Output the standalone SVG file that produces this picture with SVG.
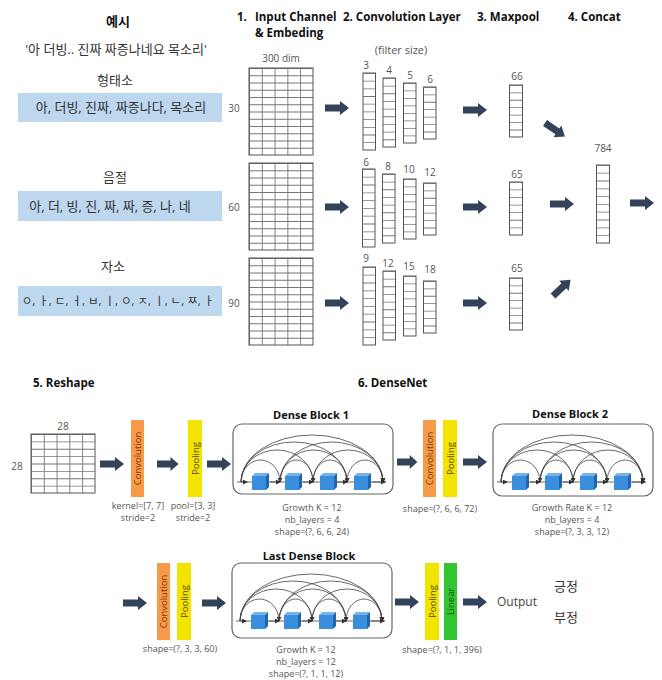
<svg xmlns="http://www.w3.org/2000/svg" width="662" height="680" viewBox="0 0 662 680">
<defs>
<style>
text{font-family:"Open Sans","Noto Sans CJK KR",sans-serif;fill:#444}
.h{font-weight:bold;font-size:11.5px;fill:#111}
.ht{font-weight:bold;font-size:11px;fill:#111;text-anchor:middle}
.kt{font-weight:bold;font-size:13px;fill:#111;text-anchor:middle}
.k{font-size:13px;fill:#333;text-anchor:middle}
.s{font-size:9px;fill:#555;text-anchor:middle}
.n{font-size:10px;fill:#555;text-anchor:middle}
.box{fill:#bdd7ee}
.frame{fill:none;stroke:#555;stroke-width:1}
.ln{stroke:#777;fill:none}
.fat{fill:#33435a}
.arc{fill:none;stroke:#444;stroke-width:0.8;marker-end:url(#ah)}
.base{fill:none;stroke:#444;stroke-width:0.8}
.dbox{fill:none;stroke:#666;stroke-width:1.2}
.conv{fill:#f79a4a}
.pool{fill:#f3e400}
.lin{fill:#33c433}
.bt{font-size:9.5px;text-anchor:middle;dominant-baseline:central}
</style>
<marker id="ah" viewBox="0 0 6 6" refX="5" refY="3" markerUnits="userSpaceOnUse" markerWidth="5" markerHeight="5" orient="auto"><path d="M0,0 L6,3 L0,6 z" fill="#333"/></marker>
<path id="fa" d="M0,-3.5 H15 V-7 L24,0 L15,7 V3.5 H0 Z"/>
<g id="cube">
<polygon points="0,3 3,0 17,0 14,3" fill="#74b4ea"/>
<polygon points="14,3 17,0 17,14 14,17" fill="#1f64ad"/>
<rect x="0" y="3" width="14" height="14" fill="#3a8fdc"/>
</g>
<g id="dense-core">
<path class="arc" d="M8,58 A19.5,22 0 0 1 47,58"/>
<path class="arc" d="M47,58 A16.5,22 0 0 1 80,58"/>
<path class="arc" d="M80,58 A17,22 0 0 1 114,58"/>
<path class="arc" d="M114,58 A18,22 0 0 1 150,58"/>
<path class="arc" d="M8,58 A36,32 0 0 1 80,58"/>
<path class="arc" d="M47,58 A33.5,32 0 0 1 114,58"/>
<path class="arc" d="M80,58 A35,32 0 0 1 150,58"/>
<path class="arc" d="M8,58 A53,40 0 0 1 114,58"/>
<path class="arc" d="M47,58 A51.5,40 0 0 1 150,58"/>
<path class="arc" d="M8,58 A71,47 0 0 1 150,58"/>
<path class="base" d="M4,58 H153"/>
<path class="arc" d="M8,58 H14"/>
<path class="arc" d="M37,58 H47"/>
<path class="arc" d="M70,58 H80"/>
<path class="arc" d="M104,58 H114"/>
<path class="arc" d="M139,58 H152"/>
<use href="#cube" x="19" y="49"/>
<use href="#cube" x="52" y="49"/>
<use href="#cube" x="87" y="49"/>
<use href="#cube" x="121" y="49"/>
</g>
</defs>
<rect width="662" height="680" fill="#fff"/>

<!-- headers -->
<g id="headers">
<text class="h" x="237" y="21">1.</text>
<text class="h" x="255" y="21">Input Channel</text>
<text class="h" x="255" y="37">&amp; Embeding</text>
<text class="h" x="343" y="21">2. Convolution Layer</text>
<text class="h" x="477" y="21">3. Maxpool</text>
<text class="h" x="568" y="21">4. Concat</text>
<text class="n" x="401" y="54" style="font-size:11px">(filter size)</text>
<text class="n" x="281" y="62">300 dim</text>
</g>

<!-- examples -->
<g id="example">
<text class="kt" x="118" y="26">예시</text>
<text class="k" x="116" y="54">'아 더빙.. 진짜 짜증나네요 목소리'</text>
</g>
<g id="morpheme">
<text class="k" x="115" y="85">형태소</text>
<rect class="box" x="18" y="93" width="204" height="29"/>
<text class="k" x="121" y="112">아, 더빙, 진짜, 짜증나다, 목소리</text>
<text class="n" x="234" y="112">30</text>
</g>
<g id="syllable">
<text class="k" x="115" y="182">음절</text>
<rect class="box" x="18" y="191" width="204" height="30"/>
<text class="k" x="110" y="211">아, 더, 빙, 진, 짜, 짜, 증, 나, 네</text>
<text class="n" x="234" y="211">60</text>
</g>
<g id="jamo">
<text class="k" x="113" y="271">자소</text>
<rect class="box" x="18" y="286" width="204" height="30"/>
<text class="k" x="118" y="305" style="font-size:11.5px">ㅇ, ㅏ, ㄷ, ㅓ, ㅂ, ㅣ, ㅇ, ㅈ, ㅣ, ㄴ, ㅉ, ㅏ</text>
<text class="n" x="234" y="307">90</text>
</g>

<!-- embedding grids -->
<g id="grid-30">
<line class="ln" x1="281" y1="68" x2="281" y2="155" stroke-width="64" stroke-dasharray="0.9 6.35"/>
<line class="ln" x1="249" y1="111.5" x2="313" y2="111.5" stroke-width="87" stroke-dasharray="0.9 11.9"/>
<rect class="frame" x="249" y="68" width="64" height="87"/>
</g>
<g id="grid-60">
<line class="ln" x1="281" y1="163" x2="281" y2="250" stroke-width="64" stroke-dasharray="0.9 6.35"/>
<line class="ln" x1="249" y1="206.5" x2="313" y2="206.5" stroke-width="87" stroke-dasharray="0.9 11.9"/>
<rect class="frame" x="249" y="163" width="64" height="87"/>
</g>
<g id="grid-90">
<line class="ln" x1="281" y1="258" x2="281" y2="345" stroke-width="64" stroke-dasharray="0.9 6.35"/>
<line class="ln" x1="249" y1="301.5" x2="313" y2="301.5" stroke-width="87" stroke-dasharray="0.9 11.9"/>
<rect class="frame" x="249" y="258" width="64" height="87"/>
</g>

<!-- conv columns -->
<g id="conv-row1">
<text class="n" x="366" y="69">3</text><text class="n" x="389" y="74">4</text><text class="n" x="410" y="79">5</text><text class="n" x="430" y="83">6</text>
<line class="ln" x1="369.25" y1="73" x2="369.25" y2="150" stroke-width="12.5" stroke-dasharray="0.8 6.9"/><rect class="frame" x="363" y="73" width="12.5" height="77"/>
<line class="ln" x1="389.25" y1="78" x2="389.25" y2="147" stroke-width="12.5" stroke-dasharray="0.8 6.87"/><rect class="frame" x="383" y="78" width="12.5" height="69"/>
<line class="ln" x1="409.75" y1="83" x2="409.75" y2="143" stroke-width="12.5" stroke-dasharray="0.8 6.7"/><rect class="frame" x="403.5" y="83" width="12.5" height="60"/>
<line class="ln" x1="429.75" y1="87" x2="429.75" y2="139" stroke-width="12.5" stroke-dasharray="0.8 6.63"/><rect class="frame" x="423.5" y="87" width="12.5" height="52"/>
</g>
<g id="conv-row2">
<text class="n" x="366" y="166">6</text><text class="n" x="388" y="170">8</text><text class="n" x="409" y="173">10</text><text class="n" x="430" y="176">12</text>
<line class="ln" x1="368.75" y1="169" x2="368.75" y2="247" stroke-width="12.5" stroke-dasharray="0.8 7"/><rect class="frame" x="362.5" y="169" width="12.5" height="78"/>
<line class="ln" x1="388.75" y1="174" x2="388.75" y2="243" stroke-width="12.5" stroke-dasharray="0.8 6.87"/><rect class="frame" x="382.5" y="174" width="12.5" height="69"/>
<line class="ln" x1="409.75" y1="179" x2="409.75" y2="239" stroke-width="12.5" stroke-dasharray="0.8 6.7"/><rect class="frame" x="403.5" y="179" width="12.5" height="60"/>
<line class="ln" x1="429.75" y1="183" x2="429.75" y2="235" stroke-width="12.5" stroke-dasharray="0.8 6.63"/><rect class="frame" x="423.5" y="183" width="12.5" height="52"/>
</g>
<g id="conv-row3">
<text class="n" x="366" y="262">9</text><text class="n" x="388" y="267">12</text><text class="n" x="409" y="270">15</text><text class="n" x="430" y="273">18</text>
<line class="ln" x1="369.25" y1="267" x2="369.25" y2="345" stroke-width="12.5" stroke-dasharray="0.8 7"/><rect class="frame" x="363" y="267" width="12.5" height="78"/>
<line class="ln" x1="389.25" y1="271" x2="389.25" y2="340" stroke-width="12.5" stroke-dasharray="0.8 6.87"/><rect class="frame" x="383" y="271" width="12.5" height="69"/>
<line class="ln" x1="409.75" y1="276" x2="409.75" y2="336" stroke-width="12.5" stroke-dasharray="0.8 6.7"/><rect class="frame" x="403.5" y="276" width="12.5" height="60"/>
<line class="ln" x1="429.75" y1="281" x2="429.75" y2="333" stroke-width="12.5" stroke-dasharray="0.8 6.63"/><rect class="frame" x="423.5" y="281" width="12.5" height="52"/>
</g>

<!-- maxpool -->
<g id="maxpool-1">
<text class="n" x="517" y="80">66</text>
<line class="ln" x1="516" y1="85" x2="516" y2="137" stroke-width="13" stroke-dasharray="0.8 6.63"/><rect class="frame" x="509.5" y="85" width="13" height="52"/>
</g>
<g id="maxpool-2">
<text class="n" x="517" y="178">65</text>
<line class="ln" x1="516" y1="182" x2="516" y2="235" stroke-width="13" stroke-dasharray="0.8 6.77"/><rect class="frame" x="509.5" y="182" width="13" height="53"/>
</g>
<g id="maxpool-3">
<text class="n" x="517" y="272">65</text>
<line class="ln" x1="516" y1="278" x2="516" y2="330" stroke-width="13" stroke-dasharray="0.8 6.63"/><rect class="frame" x="509.5" y="278" width="13" height="52"/>
</g>
<g id="concat">
<text class="n" x="603" y="152">784</text>
<line class="ln" x1="603" y1="165" x2="603" y2="243" stroke-width="13" stroke-dasharray="0.8 7"/><rect class="frame" x="596.5" y="165" width="13" height="78"/>
</g>

<!-- section 5/6 -->
<g id="reshape">
<text class="h" x="33" y="387">5. Reshape</text>
<text class="n" x="63" y="430">28</text>
<text class="n" x="17" y="470">28</text>
<line class="ln" x1="63" y1="434" x2="63" y2="493" stroke-width="64" stroke-dasharray="0.9 6.475"/>
<line class="ln" x1="31" y1="463.5" x2="95" y2="463.5" stroke-width="59" stroke-dasharray="0.9 11.9"/>
<rect class="frame" x="31" y="434" width="64" height="59"/>
</g>
<text class="h" x="358" y="387">6. DenseNet</text>

<g id="conv-1">
<rect class="conv" x="131" y="420" width="13" height="77"/>
<text class="bt" transform="translate(137.5,458.5) rotate(-90)" style="fill:#7a3a08">Convolution</text>
<text class="s" x="138" y="509">kernel=[7, 7]</text>
<text class="s" x="138" y="521">stride=2</text>
</g>
<g id="pool-1">
<rect class="pool" x="188" y="420" width="14" height="77"/>
<text class="bt" transform="translate(195,458.5) rotate(-90)" style="fill:#5a4800">Pooling</text>
<text class="s" x="193" y="509">pool=[3, 3]</text>
<text class="s" x="193" y="521">stride=2</text>
</g>
<g id="dense-block-1">
<text class="ht" x="311" y="419">Dense Block 1</text>
<rect class="dbox" x="233" y="424" width="160" height="70" rx="9"/>
<use href="#dense-core" x="233" y="424"/>
<text class="s" x="312" y="511">Growth K = 12</text>
<text class="s" x="312" y="523">nb_layers = 4</text>
<text class="s" x="312" y="535">shape=(?, 6, 6, 24)</text>
</g>
<g id="conv-2">
<rect class="conv" x="423" y="420" width="13" height="77"/>
<text class="bt" transform="translate(429.5,458.5) rotate(-90)" style="fill:#7a3a08">Convolution</text>
<text class="s" x="440" y="512">shape=(?, 6, 6, 72)</text>
</g>
<g id="pool-2">
<rect class="pool" x="443" y="420" width="14" height="77"/>
<text class="bt" transform="translate(450,458.5) rotate(-90)" style="fill:#5a4800">Pooling</text>
</g>
<g id="dense-block-2">
<text class="ht" x="570" y="418">Dense Block 2</text>
<rect class="dbox" x="493" y="424" width="160" height="72" rx="9"/>
<use href="#dense-core" x="493" y="424"/>
<text class="s" x="572" y="511">Growth Rate K = 12</text>
<text class="s" x="572" y="523">nb_layers = 4</text>
<text class="s" x="572" y="535">shape=(?, 3, 3, 12)</text>
</g>
<g id="conv-3">
<rect class="conv" x="157" y="563" width="13" height="77"/>
<text class="bt" transform="translate(163.5,601.5) rotate(-90)" style="fill:#7a3a08">Convolution</text>
<text class="s" x="180" y="652">shape=(?, 3, 3, 60)</text>
</g>
<g id="pool-3">
<rect class="pool" x="177" y="563" width="14" height="77"/>
<text class="bt" transform="translate(184,601.5) rotate(-90)" style="fill:#5a4800">Pooling</text>
</g>
<g id="last-dense-block">
<text class="ht" x="309" y="560">Last Dense Block</text>
<rect class="dbox" x="232" y="563" width="160" height="75" rx="9"/>
<use href="#dense-core" x="232" y="563"/>
<text class="s" x="306" y="653">Growth K = 12</text>
<text class="s" x="306" y="665">nb_layers = 12</text>
<text class="s" x="306" y="677">shape=(?, 1, 1, 12)</text>
</g>
<g id="pool-4">
<rect class="pool" x="425" y="563" width="14" height="77"/>
<text class="bt" transform="translate(432,601.5) rotate(-90)" style="fill:#5a4800">Pooling</text>
<text class="s" x="442" y="653">shape=(?, 1, 1, 396)</text>
</g>
<g id="linear">
<rect class="lin" x="444" y="563" width="13" height="77"/>
<text class="bt" transform="translate(450.5,601.5) rotate(-90)" style="fill:#145a14">Linear</text>
</g>
<g id="output">
<text x="497" y="606" style="font-size:12px;fill:#444">Output</text>
<text class="k" x="566" y="591">긍정</text>
<text class="k" x="566" y="622">부정</text>
</g>

<g id="connectors" class="fat">
<use href="#fa" class="fat" transform="translate(325,108)"/>
<use href="#fa" class="fat" transform="translate(325,207)"/>
<use href="#fa" class="fat" transform="translate(325,303)"/>
<use href="#fa" class="fat" transform="translate(463,110)"/>
<use href="#fa" class="fat" transform="translate(463,207)"/>
<use href="#fa" class="fat" transform="translate(463,303)"/>
<use href="#fa" class="fat" transform="translate(545,123) rotate(34)"/>
<use href="#fa" class="fat" transform="translate(553,296) rotate(-43)"/>
<use href="#fa" class="fat" transform="translate(550,204)"/>
<use href="#fa" class="fat" transform="translate(630,203)"/>
<use href="#fa" class="fat" transform="translate(100,464)"/>
<use href="#fa" class="fat" transform="translate(157,464) scale(0.9,1)"/>
<use href="#fa" class="fat" transform="translate(207,464)"/>
<use href="#fa" class="fat" transform="translate(397,462) scale(0.85,1)"/>
<use href="#fa" class="fat" transform="translate(463,462)"/>
<use href="#fa" class="fat" transform="translate(123,603)"/>
<use href="#fa" class="fat" transform="translate(202,603)"/>
<use href="#fa" class="fat" transform="translate(395,602)"/>
<use href="#fa" class="fat" transform="translate(463,602)"/>
</g>
</svg>
